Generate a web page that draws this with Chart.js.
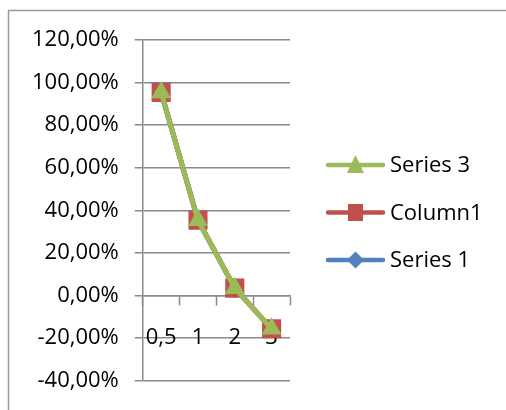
<!DOCTYPE html>
<html>
<head>
<meta charset="utf-8">
<script src="https://cdn.jsdelivr.net/npm/chart.js"></script>
<style>
  html, body { margin: 0; padding: 0; background: #ffffff; }
  #wrap { width: 506px; height: 410px; }
</style>
</head>
<body>
<div id="wrap"><canvas id="c" width="506" height="410"></canvas></div>
<script>
// Categories along the x axis
const categories = ['0,5', '1', '2', '3'];

// Series values (percent)
const series3 = [95.4, 35.4, 3.5, -15.6];
const column1 = [95.4, 35.4, 3.5, -15.6];
const series1 = [95.4, 35.4, 3.5, -15.6];

// Y axis range and step (percent)
const yMin = -40;
const yMax = 120;
const yStep = 20;

const GREEN = '#9BBB59';
const RED = '#C0504D';
const BLUE = '#4F81BD';
const GRID = '#8a8a8a';
const FONT = '"Open Sans", "Liberation Sans", sans-serif';
const FONT_SIZE = 22;

// Thin frame around the chart object
const framePlugin = {
  id: 'frame',
  beforeDraw(chart) {
    const ctx = chart.ctx;
    ctx.save();
    ctx.fillStyle = '#ffffff';
    ctx.fillRect(0, 0, chart.width, chart.height);
    ctx.strokeStyle = '#9a9a9a';
    ctx.lineWidth = 1.5;
    ctx.strokeRect(8.5, 10.5, chart.width + 20, chart.height + 20);
    ctx.restore();
  }
};

// Legend on the right: line + marker swatch followed by the series name
const sideLegend = {
  id: 'sideLegend',
  afterDraw(chart, args, opts) {
    const ctx = chart.ctx;
    const x0 = opts.x, y0 = opts.y, gap = opts.gap;
    ctx.save();
    chart.data.datasets.forEach((ds, i) => {
      const cy = y0 + i * gap;
      const color = ds.borderColor;
      ctx.strokeStyle = color;
      ctx.lineWidth = 4.5;
      ctx.lineCap = 'round';
      ctx.beginPath(); ctx.moveTo(x0, cy); ctx.lineTo(x0 + 55, cy); ctx.stroke();
      const cx = x0 + 27.5;
      ctx.fillStyle = color;
      ctx.beginPath();
      if (ds.pointStyle === 'triangle') {
        ctx.moveTo(cx, cy - 10); ctx.lineTo(cx + 8.5, cy + 8); ctx.lineTo(cx - 8.5, cy + 8); ctx.closePath();
      } else if (ds.pointStyle === 'rect') {
        ctx.rect(cx - 7.5, cy - 8.5, 15, 17);
      } else {
        ctx.moveTo(cx, cy - 8.5); ctx.lineTo(cx + 8.5, cy); ctx.lineTo(cx, cy + 8.5); ctx.lineTo(cx - 8.5, cy); ctx.closePath();
      }
      ctx.fill();
      ctx.fillStyle = '#000000';
      ctx.font = FONT_SIZE + 'px ' + FONT;
      ctx.textBaseline = 'middle';
      ctx.textAlign = 'left';
      ctx.fillText(ds.label, x0 + 62, cy + 1);
    });
    ctx.restore();
  }
};

function pct(v) {
  return v.toFixed(2).replace('.', ',') + '%';
}

new Chart(document.getElementById('c'), {
  type: 'line',
  data: {
    labels: categories,
    datasets: [
      {
        label: 'Series 3', data: series3,
        borderColor: GREEN, backgroundColor: GREEN, borderWidth: 5,
        pointStyle: 'triangle', pointRadius: 11.5, pointBorderWidth: 0,
        pointBackgroundColor: GREEN, tension: 0
      },
      {
        label: 'Column1', data: column1,
        borderColor: RED, backgroundColor: RED, borderWidth: 5,
        pointStyle: 'rect', pointRadius: 13.5, pointBorderWidth: 0,
        pointBackgroundColor: RED, tension: 0
      },
      {
        label: 'Series 1', data: series1,
        borderColor: BLUE, backgroundColor: BLUE, borderWidth: 5,
        pointStyle: 'rectRot', pointRadius: 9, pointBorderWidth: 0,
        pointBackgroundColor: BLUE, tension: 0
      }
    ]
  },
  options: {
    responsive: false,
    animation: false,
    layout: { padding: { left: 16, right: 216, top: 40, bottom: 28 } },
    font: { family: FONT },
    plugins: {
      tooltip: { enabled: false },
      legend: { display: false },
      sideLegend: { x: 328, y: 165, gap: 47.5 }
    },
    scales: {
      x: {
        type: 'category',
        position: { y: 0 },
        offset: true,
        grid: {
          offset: true,
          drawOnChartArea: false,
          drawTicks: true,
          tickLength: 9,
          tickWidth: 1.5,
          tickColor: GRID
        },
        border: { display: true, color: GRID, width: 1.5 },
        ticks: {
          color: '#000000',
          padding: 20,
          maxRotation: 0,
          autoSkip: false,
          font: { family: FONT, size: FONT_SIZE }
        }
      },
      y: {
        min: yMin,
        max: yMax,
        grid: {
          color: GRID,
          lineWidth: 1.5,
          tickLength: 8,
          tickColor: GRID
        },
        border: { display: true, color: GRID, width: 1.5 },
        ticks: {
          stepSize: yStep,
          padding: 16,
          color: '#000000',
          font: { family: FONT, size: FONT_SIZE },
          callback: (v) => pct(v)
        }
      }
    }
  },
  plugins: [framePlugin, sideLegend]
});
</script>
</body>
</html>
